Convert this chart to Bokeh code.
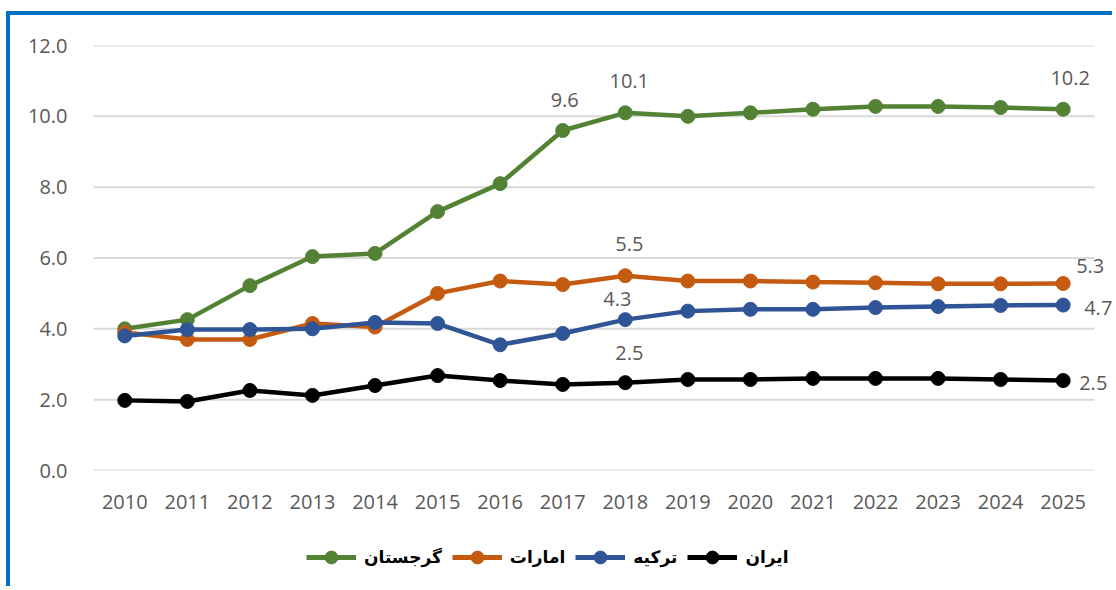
from bokeh.plotting import figure
from bokeh.layouts import column
from bokeh.models import (Range1d, NumeralTickFormatter, FixedTicker,
                          Legend, LegendItem, ColumnDataSource, LabelSet)
from bokeh.core.properties import value
from bokeh.embed import file_html
from bokeh.resources import INLINE

years = [str(y) for y in range(2010, 2026)]

georgia = [4.0, 4.26, 5.22, 6.04, 6.13, 7.31, 8.1, 9.6, 10.1, 10.0, 10.1, 10.2, 10.28, 10.28, 10.25, 10.2]
uae     = [3.9, 3.7, 3.7, 4.15, 4.05, 5.0, 5.35, 5.25, 5.5, 5.35, 5.35, 5.32, 5.3, 5.27, 5.27, 5.28]
turkey  = [3.8, 3.98, 3.98, 4.0, 4.18, 4.15, 3.55, 3.87, 4.26, 4.5, 4.55, 4.55, 4.6, 4.63, 4.66, 4.67]
iran    = [1.98, 1.95, 2.26, 2.12, 2.4, 2.68, 2.54, 2.43, 2.48, 2.57, 2.57, 2.6, 2.6, 2.6, 2.57, 2.54]

names = ["گرجستان", "امارات", "ترکیه", "ایران"]
series = [georgia, uae, turkey, iran]
colors = ["#548235", "#C55A11", "#2F5597", "#000000"]

y_ticks = [0, 2, 4, 6, 8, 10, 12]

# data labels: (series index, year index)
label_points = [(0, 7), (0, 8), (0, 15), (1, 8), (1, 15), (2, 8), (2, 15), (3, 8), (3, 15)]
# label styling (offsets in pixels, alignment)
label_styles = [
    (2, 31, "center"), (4, 32, "center"), (7, 31, "center"),
    (4, 32, "center"), (27, 18, "center"),
    (-8, 21, "center"), (21, -3, "left"),
    (4, 30, "center"), (16, -2, "left"),
]

FONT = "Open Sans"
GRAY = "#595959"
BLUE = "4px solid #0070C0"

xs = list(range(len(years)))
x_lo, x_hi = xs[0] - 0.5, xs[-1] + 0.5

p = figure(x_range=Range1d(x_lo, x_hi + 0.352), y_range=Range1d(0, 12),
           width=1106, height=515, output_backend="svg", toolbar_location=None,
           min_border_left=83, min_border_right=0, min_border_top=30, min_border_bottom=60)
p.margin = (11, 0, 0, 6)
p.styles = {"border-top": BLUE, "border-left": BLUE}
p.outline_line_color = None
p.background_fill_color = "white"
p.border_fill_color = "white"

p.grid.grid_line_color = None
p.xaxis.ticker = FixedTicker(ticks=xs)
p.xaxis.major_label_overrides = {i: y for i, y in zip(xs, years)}
p.yaxis.ticker = FixedTicker(ticks=y_ticks)
p.yaxis.formatter = NumeralTickFormatter(format="0.0")
for ax in (p.xaxis[0], p.yaxis[0]):
    ax.axis_line_color = None
    ax.major_tick_line_color = None
    ax.minor_tick_line_color = None
    ax.major_label_text_font = FONT
    ax.major_label_text_font_size = "20px"
    ax.major_label_text_color = GRAY
p.xaxis.major_label_standoff = 18
p.yaxis.major_label_standoff = 20

# horizontal gridlines spanning the category band only
p.segment(x0=[x_lo] * len(y_ticks), x1=[x_hi] * len(y_ticks), y0=y_ticks, y1=y_ticks,
          line_color="#D9D9D9", line_width=2)

sources = []
for name, vals, col in zip(names, series, colors):
    src = ColumnDataSource(dict(x=xs, y=vals))
    sources.append(src)
    p.line("x", "y", source=src, line_color=col, line_width=4.5)
    p.scatter("x", "y", source=src, size=14, fill_color=col, line_color=col)

for (si, yi), (dx, dy, al) in zip(label_points, label_styles):
    v = series[si][yi]
    src = ColumnDataSource(dict(x=[xs[yi]], y=[v], t=[f"{v:.1f}"]))
    ls = LabelSet(x="x", y="y", text="t", source=src, x_offset=dx, y_offset=dy,
                  text_align=al, text_baseline="middle", text_font=value(FONT),
                  text_font_size="20px", text_color=GRAY)
    p.add_layout(ls)

# legend strip: same series, ranges chosen so only the legend shows
lf = figure(width=1106, height=60, output_backend="svg", toolbar_location=None,
            x_axis_type=None, y_axis_type=None, x_range=(100, 101), y_range=(100, 101),
            min_border=0)
lf.margin = (0, 0, 0, 6)
lf.styles = {"border-left": BLUE}
lf.outline_line_color = None
lf.grid.grid_line_color = None
items = []
for name, col, src in zip(names, colors, sources):
    l = lf.line("x", "y", source=src, line_color=col, line_width=5)
    c = lf.scatter("x", "y", source=src, size=14, fill_color=col, line_color=col)
    items.append(LegendItem(label=name, renderers=[l, c]))

legend = Legend(items=items, orientation="horizontal", location=(213, 13))
legend.glyph_width = 50
legend.glyph_height = 32
legend.label_standoff = 8
legend.spacing = 10
legend.padding = 0
legend.margin = 0
legend.border_line_color = None
legend.background_fill_alpha = 0
legend.label_text_font = "DejaVu Sans"
legend.label_text_font_style = "bold"
legend.label_text_font_size = "17px"
legend.label_text_color = "black"
lf.add_layout(legend)

layout = column(p, lf, spacing=0)
open("out.html", "w").write(file_html(layout, INLINE))
